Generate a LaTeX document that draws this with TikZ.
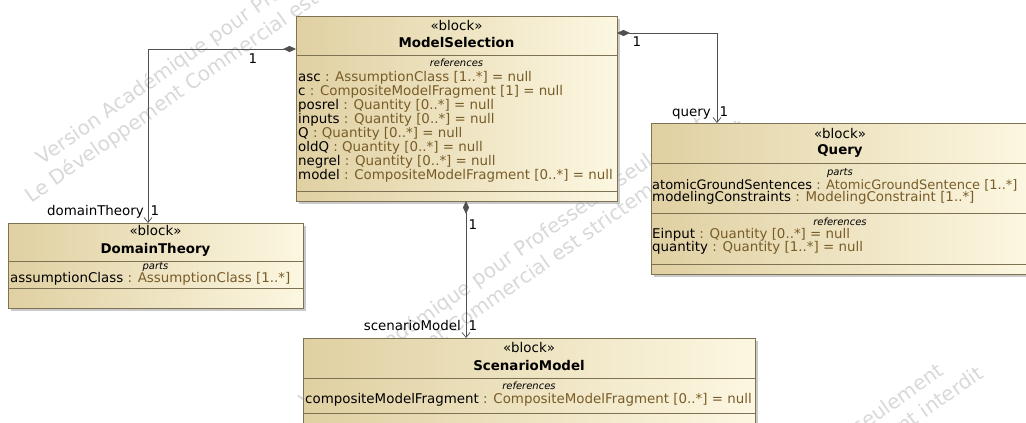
\documentclass[tikz,border=0pt]{standalone}
\usepackage{fontspec}
\setmainfont{DejaVu Sans}
\usetikzlibrary{arrows.meta,shadows}

\definecolor{blockdark}{RGB}{224,208,162}
\definecolor{blocklight}{RGB}{252,247,225}
\definecolor{blockline}{RGB}{125,114,84}
\definecolor{typecol}{RGB}{120,92,40}
\definecolor{wirecol}{RGB}{80,80,80}
\definecolor{markcol}{RGB}{216,216,216}

\newcommand{\attrline}[2]{#1 \textcolor{typecol}{: #2}}

\tikzset{
  blk/.style={draw=blockline, line width=0.8pt, left color=blockdark, right color=blocklight,
    inner sep=0pt, outer sep=0pt, anchor=north west,
    drop shadow={shadow xshift=3pt, shadow yshift=-3pt, fill=black!35, opacity=0.6}},
  sepline/.style={draw=blockline, line width=0.7pt},
  txt/.style={font=\fontsize{13.4}{14}\selectfont, inner sep=0pt, text height=10pt, text depth=3pt},
  attr/.style={txt, anchor=west},
  ster/.style={txt, anchor=center},
  bname/.style={txt, anchor=center, font=\fontsize{13.4}{14}\selectfont\bfseries},
  comp/.style={anchor=center, inner sep=0pt, font=\fontsize{10}{11}\selectfont\itshape},
  assoc/.style={draw=wirecol, line width=0.7pt,
    {Diamond[length=13pt,width=6pt,fill=wirecol]}-{Straight Barb[length=5pt,width=8pt]}},
  wmark/.style={inner sep=0pt, text=markcol, align=center, rotate=35,
    font=\fontsize{20}{25}\selectfont},
}

\begin{document}
\begin{tikzpicture}[x=1pt,y=-1pt]
\useasboundingbox (0,0) rectangle (1026,423);
% watermark
\node[wmark] (wm1) at (247,30) {Version Académique pour Professeurs seulement\\Le Développement Commercial est strictement interdit};
\node[wmark] (wm2) at (510,273) {Version Académique pour Professeurs seulement\\Le Développement Commercial est strictement interdit};
\node[wmark] (wm3) at (748,520) {Version Académique pour Professeurs seulement\\Le Développement Commercial est strictement interdit};

% blocks
\node[blk, minimum width=321pt, minimum height=185pt] (ms) at (296,16) {};
\node[blk, minimum width=295pt, minimum height=85pt] (dt) at (8,223) {};
\node[blk, minimum width=378pt, minimum height=151pt] (qu) at (651,123) {};
\node[blk, minimum width=452pt, minimum height=92pt] (sc) at (303,338) {};

% ModelSelection
\draw[sepline] (ms.west |- 0,55) -- (ms.east |- 0,55);
\draw[sepline] (ms.west |- 0,191) -- (ms.east |- 0,191);
\node[ster] (ms-st) at (ms.north |- 0,27) {«block»};
\node[bname] (ms-nm) at (ms.north |- 0,44) {ModelSelection};
\node[comp] (ms-cp) at (ms.north |- 0,63) {references};
\node[attr] (ms-a1) at (298,78) {\attrline{asc}{AssumptionClass [1..*] = null}};
\node[attr] (ms-a2) at (298,92) {\attrline{c}{CompositeModelFragment [1] = null}};
\node[attr] (ms-a3) at (298,106) {\attrline{posrel}{Quantity [0..*] = null}};
\node[attr] (ms-a4) at (298,120) {\attrline{inputs}{Quantity [0..*] = null}};
\node[attr] (ms-a5) at (298,134) {\attrline{Q}{Quantity [0..*] = null}};
\node[attr] (ms-a6) at (298,148) {\attrline{oldQ}{Quantity [0..*] = null}};
\node[attr] (ms-a7) at (298,162) {\attrline{negrel}{Quantity [0..*] = null}};
\node[attr] (ms-a8) at (298,176) {\attrline{model}{CompositeModelFragment [0..*] = null}};

% DomainTheory
\draw[sepline] (dt.west |- 0,261) -- (dt.east |- 0,261);
\draw[sepline] (dt.west |- 0,288) -- (dt.east |- 0,288);
\node[ster] (dt-st) at (dt.north |- 0,232) {«block»};
\node[bname] (dt-nm) at (dt.north |- 0,250) {DomainTheory};
\node[comp] (dt-cp) at (dt.north |- 0,267) {parts};
\node[attr] (dt-a1) at (10,279) {\attrline{assumptionClass}{AssumptionClass [1..*]}};

% Query
\draw[sepline] (qu.west |- 0,163) -- (qu.east |- 0,163);
\draw[sepline] (qu.west |- 0,213) -- (qu.east |- 0,213);
\draw[sepline] (qu.west |- 0,264) -- (qu.east |- 0,264);
\node[ster] (qu-st) at (qu.north |- 0,135) {«block»};
\node[bname] (qu-nm) at (qu.north |- 0,151) {Query};
\node[comp] (qu-cp1) at (qu.north |- 0,173) {parts};
\node[attr, font=\fontsize{13}{14}\selectfont] (qu-a1) at (652,186) {\attrline{atomicGroundSentences}{AtomicGroundSentence [1..*]}};
\node[attr] (qu-a2) at (652,198) {\attrline{modelingConstraints}{ModelingConstraint [1..*]}};
\node[comp] (qu-cp2) at (qu.north |- 0,222) {references};
\node[attr] (qu-a3) at (652,235) {\attrline{Einput}{Quantity [0..*] = null}};
\node[attr] (qu-a4) at (652,248) {\attrline{quantity}{Quantity [1..*] = null}};

% ScenarioModel
\draw[sepline] (sc.west |- 0,378) -- (sc.east |- 0,378);
\draw[sepline] (sc.west |- 0,413) -- (sc.east |- 0,413);
\node[ster] (sc-st) at (sc.north |- 0,349) {«block»};
\node[bname] (sc-nm) at (sc.north |- 0,367) {ScenarioModel};
\node[comp] (sc-cp) at (sc.north |- 0,386) {references};
\node[attr] (sc-a1) at (305,400) {\attrline{compositeModelFragment}{CompositeModelFragment [0..*] = null}};

% associations
\draw[assoc] ([yshift=-33pt]ms.north west) -| ([xshift=140pt]dt.north west);
\draw[assoc] ([yshift=-17pt]ms.north east) -| ([xshift=66pt]qu.north west);
\draw[assoc] ([xshift=170pt]ms.south west) -- ([xshift=163pt]sc.north west);

\node[txt] (m-ms1) at (253,60) {1};
\node[txt, anchor=east] (r-dt) at (144,212) {domainTheory};
\node[txt] (m-dt) at (155,212) {1};
\node[txt] (m-ms2) at (637,43) {1};
\node[txt, anchor=east] (r-qu) at (711,113) {query};
\node[txt] (m-qu) at (724,113) {1};
\node[txt] (m-ms3) at (473,226) {1};
\node[txt, anchor=east] (r-sc) at (461,327) {scenarioModel};
\node[txt] (m-sc) at (473,327) {1};
\end{tikzpicture}
\end{document}
